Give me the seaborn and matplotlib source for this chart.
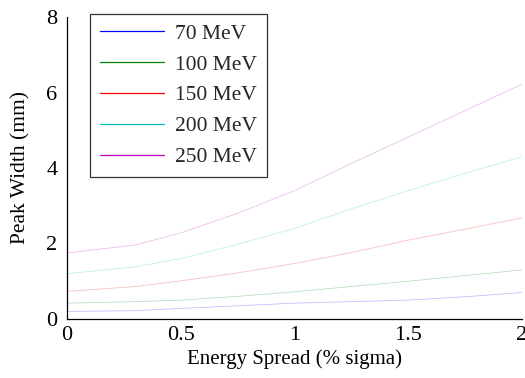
import numpy as np
import pandas as pd
import matplotlib
matplotlib.use("Agg")
import matplotlib.pyplot as plt
from matplotlib.lines import Line2D
import seaborn as sns

energy_spread = [0, 0.3, 0.5, 0.75, 1.0, 1.25, 1.5, 1.75, 2.0]
labels = ["70 MeV", "100 MeV", "150 MeV", "200 MeV", "250 MeV"]
w70 = [0.20, 0.22, 0.28, 0.35, 0.42, 0.46, 0.50, 0.59, 0.70]
w100 = [0.42, 0.46, 0.50, 0.60, 0.72, 0.86, 1.00, 1.15, 1.30]
w150 = [0.73, 0.86, 1.01, 1.22, 1.47, 1.76, 2.09, 2.38, 2.68]
w200 = [1.20, 1.38, 1.60, 1.98, 2.40, 2.92, 3.40, 3.86, 4.30]
w250 = [1.75, 1.96, 2.28, 2.80, 3.40, 4.12, 4.82, 5.52, 6.22]
colors = ["#0000ff", "#008000", "#ff0000", "#00bfbf", "#bf00bf"]

series = [w70, w100, w150, w200, w250]
df = pd.DataFrame({
    "x": energy_spread * len(labels),
    "y": sum(series, []),
    "label": sum([[l] * len(energy_spread) for l in labels], []),
})

sns.set_style("white")
plt.rcParams["font.family"] = ["Liberation Serif", "DejaVu Serif"]

fig = plt.figure(figsize=(5.25, 3.78), dpi=100)
ax = fig.add_axes([67 / 525, 1 - 319 / 378, (522 - 67) / 525, (319 - 17) / 378])
sns.lineplot(data=df, x="x", y="y", hue="label", palette=colors,
             hue_order=labels, ax=ax, linewidth=0.6, alpha=0.25, legend=False)

ax.set_xlim(0, 2)
ax.set_ylim(0, 8)
ax.set_xticks([0, 0.5, 1, 1.5, 2])
ax.set_xticklabels(["0", "0.5", "1", "1.5", "2"])
ax.set_yticks([0, 2, 4, 6, 8])
ax.set_yticklabels(["0", "2", "4", "6", "8"])
ax.tick_params(direction="in", length=4, width=0.8, labelsize=16, colors="black")
ax.tick_params(axis="y", pad=7)
ax.tick_params(axis="x", pad=5)
for s in ["top", "right"]:
    ax.spines[s].set_visible(False)
for s in ["left", "bottom"]:
    ax.spines[s].set_color("black")
    ax.spines[s].set_linewidth(0.9)
ax.set_xlabel("Energy Spread (% sigma)", fontsize=15, color="black", labelpad=3)
ax.set_ylabel("Peak Width (mm)", fontsize=15.5, color="black", labelpad=11)

handles = [Line2D([0], [0], color=c, lw=0.9) for c in colors]
leg = ax.legend(handles, labels, loc="upper left", bbox_to_anchor=(0.051, 1.01),
                fontsize=15.5, frameon=True, fancybox=False, edgecolor="black",
                handlelength=3.0, handletextpad=0.5, labelspacing=0.5,
                borderpad=0.45, borderaxespad=0)
leg.get_frame().set_linewidth(0.9)

fig.savefig("out.png", dpi=100)
